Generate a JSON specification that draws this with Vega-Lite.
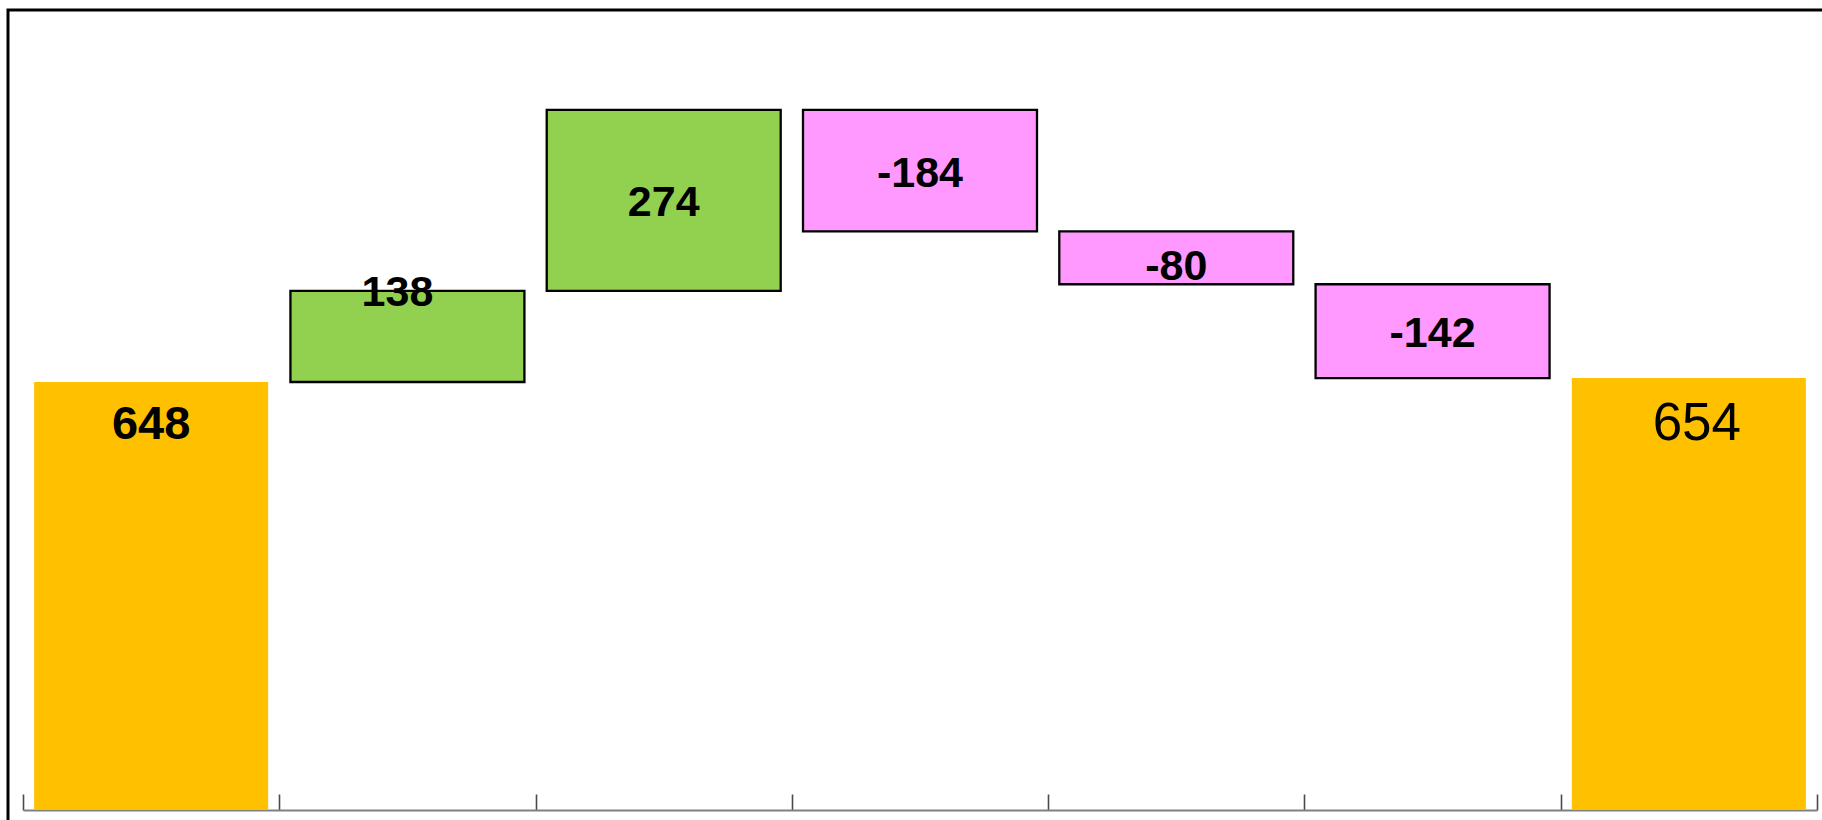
{
  "$schema": "https://vega.github.io/schema/vega-lite/v6.json",
  "autosize": "none",
  "padding": {"left": 8, "top": 10, "right": 0, "bottom": 0},
  "width": 1830,
  "height": 830,
  "background": "white",
  "config": {
    "view": {"stroke": "#000000", "strokeWidth": 3},
    "font": "Liberation Sans"
  },
  "data": {
    "values": [
      {"step": "Start", "start": 0, "end": 648, "label": "648", "kind": "total"},
      {"step": "Step 1", "start": 648, "end": 786, "label": "138", "kind": "increase"},
      {"step": "Step 2", "start": 786, "end": 1060, "label": "274", "kind": "increase"},
      {"step": "Step 3", "start": 1060, "end": 876, "label": "-184", "kind": "decrease"},
      {"step": "Step 4", "start": 876, "end": 796, "label": "-80", "kind": "decrease"},
      {"step": "Step 5", "start": 796, "end": 654, "label": "-142", "kind": "decrease"},
      {"step": "End", "start": 0, "end": 654, "label": "654", "kind": "total"}
    ]
  },
  "encoding": {
    "x": {
      "field": "step",
      "type": "nominal",
      "sort": ["Start", "Step 1", "Step 2", "Step 3", "Step 4", "Step 5", "End"],
      "scale": {"domain": ["Start", "Step 1", "Step 2", "Step 3", "Step 4", "Step 5", "End"], "range": [15, 1809], "paddingInner": 0, "paddingOuter": 0},
      "axis": {
        "title": null,
        "labels": false,
        "tickBand": "extent",
        "tickSize": -16,
        "tickWidth": 1.6,
        "tickColor": "#4a4a4a",
        "domainColor": "#808080",
        "domainWidth": 1.8,
        "offset": -30,
        "grid": false
      }
    }
  },
  "layer": [
    {
      "transform": [{"filter": "datum.kind === 'total'"}],
      "mark": {"type": "bar", "width": {"band": 0.913}, "color": "#FFC000"},
      "encoding": {
        "y": {"field": "start", "type": "quantitative", "scale": {"domain": [-45.4, 1211.2], "nice": false, "zero": false}, "axis": null},
        "y2": {"field": "end"}
      }
    },
    {
      "transform": [{"filter": "datum.kind !== 'total'"}],
      "mark": {"type": "bar", "width": {"band": 0.913}, "stroke": "#000000", "strokeWidth": 2.3},
      "encoding": {
        "y": {"field": "start", "type": "quantitative"},
        "y2": {"field": "end"},
        "fill": {
          "field": "kind",
          "type": "nominal",
          "scale": {"domain": ["increase", "decrease"], "range": ["#92D050", "#FF99FF"]},
          "legend": null
        }
      }
    },
    {
      "transform": [
        {"filter": "datum.kind !== 'total' && datum.step !== 'Step 1' && datum.step !== 'Step 4'"},
        {"fold": ["start", "end"], "as": ["edge", "v"]}
      ],
      "mark": {"type": "text", "fontSize": 43, "fontWeight": "bold", "baseline": "middle", "align": "center", "dy": 3, "color": "#000000"},
      "encoding": {
        "y": {"aggregate": "mean", "field": "v", "type": "quantitative"},
        "text": {"field": "label", "type": "nominal"}
      }
    },
    {
      "transform": [
        {"filter": "datum.step === 'Step 4'"},
        {"fold": ["start", "end"], "as": ["edge", "v"]}
      ],
      "mark": {"type": "text", "fontSize": 43, "fontWeight": "bold", "baseline": "middle", "align": "center", "dy": 9, "color": "#000000"},
      "encoding": {
        "y": {"aggregate": "mean", "field": "v", "type": "quantitative"},
        "text": {"field": "label", "type": "nominal"}
      }
    },
    {
      "transform": [{"filter": "datum.step === 'Step 1'"}],
      "mark": {"type": "text", "fontSize": 43, "fontWeight": "bold", "baseline": "middle", "align": "center", "dx": -10, "dy": 2, "color": "#000000"},
      "encoding": {
        "y": {"field": "end", "type": "quantitative"},
        "text": {"field": "label", "type": "nominal"}
      }
    },
    {
      "transform": [{"filter": "datum.step === 'Start'"}],
      "mark": {"type": "text", "fontSize": 47, "fontWeight": "bold", "baseline": "middle", "align": "center", "dy": 43, "color": "#000000"},
      "encoding": {
        "y": {"field": "end", "type": "quantitative"},
        "text": {"field": "label", "type": "nominal"}
      }
    },
    {
      "transform": [{"filter": "datum.step === 'End'"}],
      "mark": {"type": "text", "fontSize": 53, "fontWeight": "normal", "baseline": "middle", "align": "center", "dy": 46, "dx": 8, "color": "#000000"},
      "encoding": {
        "y": {"field": "end", "type": "quantitative"},
        "text": {"field": "label", "type": "nominal"}
      }
    }
  ]
}
